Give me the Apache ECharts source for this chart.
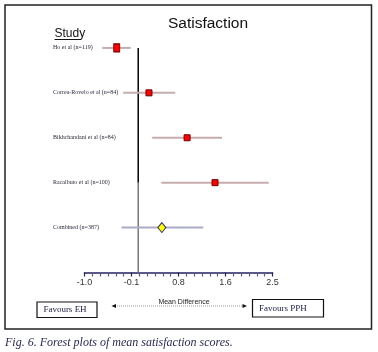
<!DOCTYPE html>
<html><head><meta charset="utf-8">
<script src="https://cdn.jsdelivr.net/npm/echarts@6/dist/echarts.min.js"></script>
<style>html,body{margin:0;padding:0;background:#fff}#c{width:378px;height:352px}</style>
</head><body><div id="c"></div>
<script>
// ---- data ----
const studies = ['Ho et al (n=119)', 'Correa-Rovelo et al (n=84)', 'Bikhchandani et al (n=84)', 'Racalbuto et al (n=100)', 'Combined (n=387)'];
const means = [-0.40, 0.20, 0.91, 1.43, 0.44];
const lows  = [-0.67, -0.28, 0.26, 0.43, -0.31];
const highs = [-0.14, 0.69, 1.56, 2.43, 1.21];
const tickLabels = ['-1.0', '-0.1', '0.8', '1.6', '2.5'];
const xMin = -1.0, xMax = 2.5, xInterval = 0.875;

const cats = [' '].concat(studies).concat(['']);
const nStudy = studies.length - 1;

const ciData = studies.map((s, i) => [lows[i], highs[i], means[i], i + 1]);
const sqData = studies.slice(0, nStudy).map((s, i) => [means[i], i + 1]);
const dmData = [[means[nStudy], nStudy + 1]];

const chart = echarts.init(document.getElementById('c'), null, {renderer: 'canvas'});
chart.setOption({
  animation: false,
  backgroundColor: '#fff',
  grid: {left: 84.5, right: 105.5, top: 1.9, bottom: 79.5, containLabel: false},
  xAxis: {
    type: 'value', min: xMin, max: xMax, interval: xInterval,
    splitLine: {show: false},
    axisLine: {show: true, lineStyle: {color: '#23235e', width: 1.5}},
    axisTick: {show: true, length: 4, lineStyle: {color: '#23235e', width: 1.2}},
    minorTick: {show: true, splitNumber: 6, length: 4, lineStyle: {color: '#5a5a8c', width: 1.2}},
    axisLabel: {
      margin: 6, fontSize: 9, color: '#333', fontFamily: 'Liberation Sans, Arial',
      formatter: (v) => {
        const k = Math.round((v - xMin) / xInterval);
        return tickLabels[k] !== undefined ? tickLabels[k] : '';
      }
    }
  },
  yAxis: {
    type: 'category', data: cats, inverse: true, boundaryGap: false,
    axisLine: {show: false}, axisTick: {show: false}, splitLine: {show: false},
    axisLabel: {
      show: true, align: 'left', margin: 31.5, fontSize: 6,
      fontFamily: 'Liberation Serif, Times New Roman', color: '#2a2a3a', interval: 0
    }
  },
  series: [
    {
      type: 'custom', name: 'zero', silent: true, z: 1,
      data: [[0, 1, 3.63, 6]],
      encode: {x: 0, y: [1, 2, 3]},
      renderItem: (params, api) => {
        const a = api.coord([api.value(0), api.value(1)]);
        const b = api.coord([api.value(0), api.value(2)]);
        const c = api.coord([api.value(0), api.value(3)]);
        return {type: 'group', children: [
          {type: 'line', shape: {x1: a[0], y1: a[1], x2: b[0], y2: b[1]}, style: {stroke: '#000', lineWidth: 1.5}},
          {type: 'line', shape: {x1: b[0], y1: b[1], x2: c[0], y2: c[1]}, style: {stroke: '#777', lineWidth: 1.5}}
        ]};
      }
    },
    {
      type: 'custom', name: 'ci', silent: true, z: 2,
      data: ciData,
      encode: {x: [0, 1, 2], y: 3},
      renderItem: (params, api) => {
        const y = api.value(3);
        const p1 = api.coord([api.value(0), y]);
        const p2 = api.coord([api.value(1), y]);
        const combined = params.dataIndex === nStudy;
        return {type: 'line', shape: {x1: p1[0], y1: p1[1], x2: p2[0], y2: p2[1]},
          style: {stroke: combined ? '#a9a9c8' : '#c6acac', lineWidth: 2}};
      }
    },
    {
      type: 'scatter', name: 'studies', z: 3,
      data: sqData,
      symbol: 'rect',
      symbolSize: (v, p) => p.dataIndex === 0 ? [6, 8] : [6, 6],
      itemStyle: {color: '#ff0000', borderColor: '#700000', borderWidth: 1, opacity: 1}
    },
    {
      type: 'scatter', name: 'combined', z: 3,
      data: dmData,
      symbol: 'diamond', symbolSize: [8, 10],
      itemStyle: {color: '#ffff00', borderColor: '#2a2a70', borderWidth: 1, opacity: 1}
    }
  ],
  graphic: [
    {type: 'rect', shape: {x: 5, y: 5, width: 366.5, height: 324}, style: {fill: 'none', stroke: '#222', lineWidth: 1.5}, z: 10},
    {type: 'text', x: 208, y: 23.5, style: {text: 'Satisfaction', font: '15.5px "Liberation Sans", Arial', fill: '#111', textAlign: 'center', textVerticalAlign: 'middle'}},
    {type: 'text', x: 54.5, y: 34, style: {text: 'Study', font: '12px "Liberation Sans", Arial', fill: '#111', textAlign: 'left', textVerticalAlign: 'middle'}},
    {type: 'line', shape: {x1: 54.5, y1: 39.5, x2: 81, y2: 39.5}, style: {stroke: '#111', lineWidth: 1}},
    // bottom legend boxes
    {type: 'rect', shape: {x: 37, y: 302, width: 60, height: 15.5}, style: {fill: '#fff', stroke: '#111', lineWidth: 1.2}},
    {type: 'text', x: 65, y: 310, style: {text: 'Favours EH', font: '9px "Liberation Serif", "Times New Roman"', fill: '#22224a', textAlign: 'center', textVerticalAlign: 'middle'}},
    {type: 'rect', shape: {x: 252.5, y: 299.5, width: 71, height: 17.5}, style: {fill: '#fff', stroke: '#111', lineWidth: 1.2}},
    {type: 'text', x: 259, y: 308.5, style: {text: 'Favours PPH', font: '9px "Liberation Serif", "Times New Roman"', fill: '#22224a', textAlign: 'left', textVerticalAlign: 'middle'}},
    {type: 'text', x: 184, y: 302.5, style: {text: 'Mean Difference', font: '7px "Liberation Sans", Arial', fill: '#222', textAlign: 'center', textVerticalAlign: 'middle'}},
    {type: 'line', shape: {x1: 115, y1: 306, x2: 243, y2: 306}, style: {stroke: '#999', lineWidth: 1, lineDash: [1, 1]}},
    {type: 'polygon', shape: {points: [[111.5, 306], [116, 304], [116, 308]]}, style: {fill: '#111'}},
    {type: 'polygon', shape: {points: [[247, 306], [242.5, 304], [242.5, 308]]}, style: {fill: '#111'}},
    {type: 'text', x: 5, y: 343, style: {text: 'Fig. 6. Forest plots of mean satisfaction scores.', font: 'italic 12px "Liberation Serif", "Times New Roman"', fill: '#2a2a55', textAlign: 'left', textVerticalAlign: 'middle'}}
  ]
});
</script>
</body></html>
